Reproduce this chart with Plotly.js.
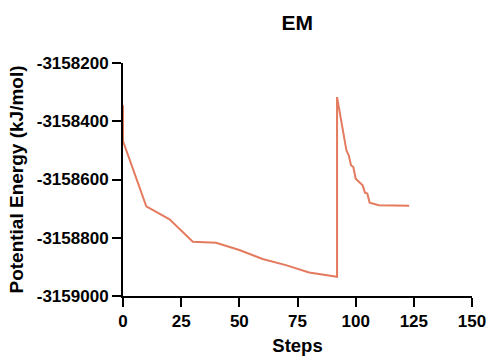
<!DOCTYPE html>
<html>
<head>
<meta charset="utf-8">
<script src="https://cdn.plot.ly/plotly-3.0.1.min.js"></script>
<style>html,body{margin:0;padding:0;background:#fff;}#chart{width:489px;height:356px;}</style>
</head>
<body>
<div id="chart"></div>
<script>
const steps = [0, 0, 10, 20, 30, 40, 50, 60, 70, 80, 92, 92, 96, 97, 98, 99, 100, 102, 103, 104, 105, 106, 110, 123];
const energy = [-3158345, -3158468, -3158692, -3158737, -3158814, -3158817, -3158842, -3158873, -3158894, -3158919, -3158934, -3158317, -3158499, -3158517, -3158551, -3158557, -3158597, -3158614, -3158620, -3158645, -3158648, -3158680, -3158688, -3158690];
const xTicks = [0, 25, 50, 75, 100, 125, 150];
const yTicks = [-3159000, -3158800, -3158600, -3158400, -3158200];

const font = {family: 'Liberation Sans, Arial, sans-serif', color: '#000', weight: 'bold'};
Plotly.newPlot('chart', [{
  x: steps, y: energy, type: 'scatter', mode: 'lines',
  line: {color: 'rgb(228,122,94)', width: 2},
  cliponaxis: false, hoverinfo: 'none'
}], {
  width: 489, height: 356,
  margin: {l: 123, r: 17, t: 63, b: 60},
  paper_bgcolor: '#fff', plot_bgcolor: '#fff',
  showlegend: false,
  title: {text: 'EM', font: Object.assign({size: 21}, font), x: 0.608, xanchor: 'center', y: 0.935, yanchor: 'middle'},
  xaxis: {
    range: [0, 150], tickvals: xTicks, ticktext: xTicks.map(String),
    showline: true, linecolor: '#000', linewidth: 2, mirror: false,
    ticks: 'outside', ticklen: 9, tickwidth: 2, tickcolor: '#000',
    showgrid: false, zeroline: false,
    tickfont: Object.assign({size: 17}, font),
    title: {text: 'Steps', font: Object.assign({size: 18.5}, font), standoff: 10}
  },
  yaxis: {
    range: [-3159000, -3158200], tickvals: yTicks, ticktext: yTicks.map(String),
    showline: true, linecolor: '#000', linewidth: 2,
    ticks: 'outside', ticklen: 9, tickwidth: 2, tickcolor: '#000',
    showgrid: false, zeroline: false,
    tickfont: Object.assign({size: 17}, font),
    title: {text: 'Potential Energy (kJ/mol)', font: Object.assign({size: 19}, font), standoff: 8}
  }
}, {staticPlot: true});
</script>
</body>
</html>
